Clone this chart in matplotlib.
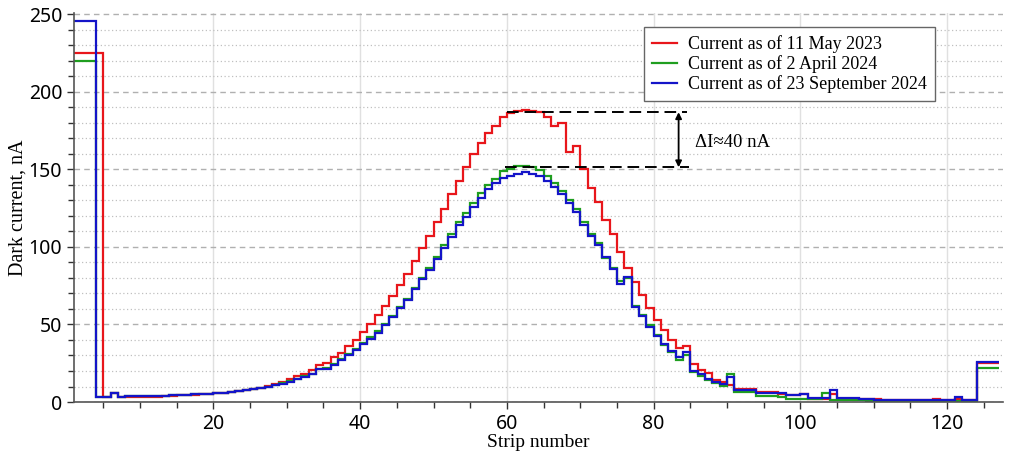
import numpy as np
import matplotlib
matplotlib.use("Agg")
import matplotlib.pyplot as plt
from matplotlib.ticker import MultipleLocator

# dark current per strip (strips 1..126), nA
red_may2023 = [
    225, 225, 225, 225, 3.5, 5.5, 3.2, 3.2, 3.2, 3.3,
    3.4, 3.5, 3.6, 3.8, 4.3, 4.5, 4.8, 5.0, 5.2, 5.5,
    6.0, 6.4, 7.0, 7.6, 8.3, 9.2, 10.2, 11.4, 12.9, 15.0,
    17.0, 18.3, 20.5, 24.0, 25.0, 28.7, 31.9, 35.8, 40.1, 45.4,
    50.4, 55.8, 61.8, 68.4, 75.7, 82.8, 90.8, 99.0, 107.1, 115.9,
    124.7, 134.0, 142.6, 151.2, 159.6, 166.7, 173.1, 178.0, 184.0, 186.5,
    187.5, 188.0, 187.5, 187.0, 184.0, 178.0, 180.0, 161.0, 165.0, 150.0,
    138.0, 129.0, 117.2, 108.5, 97.0, 86.7, 77.4, 68.9, 60.7, 52.7,
    46.3, 40.3, 34.5, 36.0, 24.8, 20.5, 18.5, 14.5, 13.0, 10.8,
    8.7, 8.7, 8.7, 6.5, 6.5, 6.5, 5.0, 4.5, 4.4, 5.0,
    2.2, 2.2, 2.2, 5.0, 1.7, 1.7, 1.7, 1.7, 1.7, 1.7,
    1.3, 1.3, 1.3, 1.3, 1.3, 1.3, 1.3, 2.2, 1.3, 1.3,
    2.2, 1.3, 1.3, 25.0, 25.0, 25.0,
]
green_apr2024 = [
    220, 220, 220, 3.5, 3.5, 5.5, 3.5, 3.6, 3.7, 3.8,
    3.9, 4.0, 4.2, 4.3, 4.5, 4.7, 4.9, 5.1, 5.3, 5.6,
    6.0, 6.5, 7.0, 7.6, 8.2, 9.0, 9.8, 10.9, 12.0, 13.4,
    15.0, 16.5, 18.3, 21.0, 21.8, 24.5, 27.5, 31.0, 34.3, 37.8,
    41.6, 45.5, 50.5, 55.6, 61.0, 66.5, 73.6, 80.0, 86.3, 93.5,
    101.0, 108.5, 116.0, 122.0, 128.5, 134.5, 140.0, 144.0, 148.8, 150.5,
    152.0, 152.0, 151.5, 149.4, 145.8, 140.9, 136.1, 130.1, 124.3, 116.1,
    108.6, 102.2, 93.0, 86.1, 77.9, 80.0, 62.0, 56.0, 49.5, 43.5,
    37.0, 32.0, 27.0, 30.2, 19.5, 16.6, 14.5, 12.4, 10.5, 17.8,
    6.5, 6.5, 6.5, 4.0, 4.0, 4.0, 3.5, 2.2, 2.2, 2.2,
    2.2, 2.2, 5.5, 1.3, 1.3, 1.3, 1.3, 1.3, 0.5, 0.5,
    0.5, 0.5, 0.5, 0.5, 0.5, 0.5, 0.5, 0.5, 0.5, 0.5,
    0.5, 0.5, 0.5, 22.0, 22.0, 22.0,
]
blue_sep2024 = [
    245.7, 245.7, 245.7, 3.5, 3.5, 5.5, 3.5, 3.6, 3.7, 3.8,
    3.9, 4.0, 4.2, 4.3, 4.5, 4.7, 4.9, 5.1, 5.3, 5.6,
    6.0, 6.5, 7.0, 7.6, 8.2, 9.0, 9.7, 10.8, 11.8, 13.2,
    14.7, 16.2, 18.0, 21.0, 21.5, 24.0, 27.0, 30.5, 33.8, 37.1,
    40.9, 44.8, 49.8, 54.9, 60.3, 65.6, 72.7, 79.0, 85.0, 92.1,
    99.0, 106.5, 114.0, 119.3, 125.8, 131.6, 137.2, 140.9, 144.3, 146.0,
    147.3, 148.0, 147.3, 146.0, 142.6, 138.7, 134.0, 128.0, 122.2, 114.4,
    107.1, 101.1, 93.5, 85.5, 76.2, 80.3, 61.3, 55.5, 48.4, 42.6,
    37.7, 33.0, 28.7, 32.3, 20.1, 17.9, 15.1, 13.0, 11.5, 16.2,
    8.0, 8.0, 8.0, 6.1, 6.1, 6.1, 5.5, 4.8, 4.4, 5.0,
    2.7, 2.7, 2.7, 7.6, 2.5, 2.5, 2.5, 2.2, 2.0, 1.5,
    1.3, 1.3, 1.3, 1.3, 1.3, 1.3, 1.3, 1.3, 1.3, 1.3,
    3.3, 1.0, 1.0, 25.5, 25.5, 25.5,
]
labels = ["Current as of 11 May 2023", "Current as of 2 April 2024",
          "Current as of 23 September 2024"]
colors = ["#e8161b", "#1f9e1f", "#1414c8"]

edges = np.arange(1, len(red_may2023) + 2)
serif = "Liberation Serif"

fig = plt.figure(figsize=(10.09, 4.51), dpi=100)
ax = fig.add_axes([0.0733, 0.1086, 0.9207, 0.8634])

# grid: dashed majors, dotted minors, solid verticals
ax.yaxis.set_major_locator(MultipleLocator(50))
ax.yaxis.set_minor_locator(MultipleLocator(10))
ax.xaxis.set_major_locator(MultipleLocator(20))
ax.xaxis.set_minor_locator(MultipleLocator(5))
ax.grid(axis="y", which="major", color="#b0b0b0", ls=(0, (4, 3)), lw=1.0)
ax.grid(axis="y", which="minor", color="#c0c0c0", ls=(0, (1, 2)), lw=0.9)
ax.grid(axis="x", which="major", color="#e0e0e0", ls="-", lw=1.0)
ax.set_axisbelow(True)

for vals, c, lab in zip([red_may2023, green_apr2024, blue_sep2024], colors, labels):
    ax.stairs(vals, edges, color=c, lw=1.6, label=lab, baseline=None)

# delta annotation
ax.plot([60, 84.5], [186.8, 186.8], color="black", ls=(0, (6, 3)), lw=1.4)
ax.plot([59.7, 84.8], [151.3, 151.3], color="black", ls=(0, (6, 3)), lw=1.4)
ax.annotate("", xy=(83.4, 151.3), xytext=(83.4, 186.8),
            arrowprops=dict(arrowstyle="<|-|>", color="black", lw=1.3,
                            mutation_scale=9, shrinkA=0, shrinkB=0))
ax.text(85.7, 167, "ΔI≈40 nA", fontsize=13.5, family=serif, va="center")

ax.set_xlim(1, 127.6)
ax.set_ylim(0, 251)

for s in ["top", "right"]:
    ax.spines[s].set_visible(False)
for s in ["left", "bottom"]:
    ax.spines[s].set_color("#555555")
    ax.spines[s].set_linewidth(1.2)
ax.tick_params(which="both", direction="out", colors="#333333", labelcolor="black",
               labelsize=14)
ax.tick_params(which="major", length=5, width=1.0)
ax.tick_params(which="minor", length=4, width=1.0)
for lab in ax.get_xticklabels() + ax.get_yticklabels():
    lab.set_family("Noto Sans")

ax.set_xlabel("Strip number", family=serif, fontsize=14, labelpad=0)
ax.set_ylabel("Dark current, nA", family=serif, fontsize=14.5, labelpad=1)

leg = ax.legend(loc="upper left", bbox_to_anchor=(0.6135, 0.963), fancybox=False,
                prop={"family": serif, "size": 13}, handlelength=1.4,
                labelspacing=0.12, borderpad=0.45, handletextpad=0.6,
                borderaxespad=0, framealpha=1.0)
leg.get_frame().set_edgecolor("#666666")
leg.get_frame().set_linewidth(1.0)

fig.savefig("out.png", dpi=100)
